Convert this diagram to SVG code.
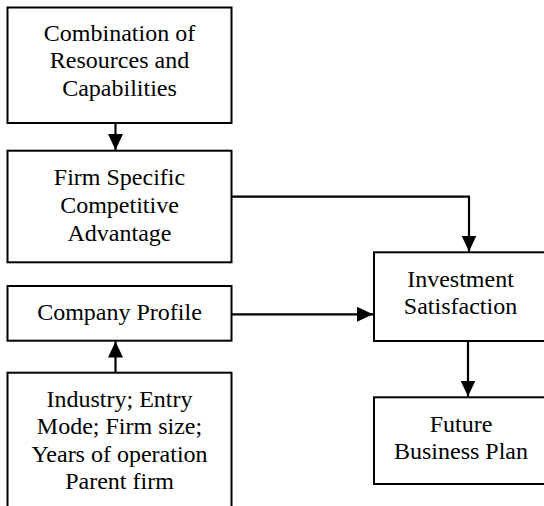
<svg xmlns="http://www.w3.org/2000/svg" width="544" height="506" viewBox="0 0 544 506">
  <style>
    .box { fill: #ffffff; stroke: #000000; stroke-width: 2; }
    .lbl { font-family: 'Liberation Serif', 'Times New Roman', serif; font-size: 24px; fill: #000000; text-anchor: middle; }
    .conn { fill: none; stroke: #000000; stroke-width: 2.2; }
  </style>
  <defs>
    <marker id="arrow" markerUnits="userSpaceOnUse" markerWidth="17" markerHeight="16" refX="16" refY="7.5" orient="auto">
      <path d="M0,0 L16,7.5 L0,15 Z" fill="#000000"/>
    </marker>
  </defs>
  <rect x="0" y="0" width="544" height="506" fill="#ffffff"/>

  <g id="resources">
    <rect class="box" x="7.5" y="7.5" width="224" height="115.5"/>
    <text class="lbl" x="119.5" y="40.7">Combination of</text>
    <text class="lbl" x="119.5" y="68.3">Resources and</text>
    <text class="lbl" x="119.5" y="96">Capabilities</text>
  </g>

  <g id="advantage">
    <rect class="box" x="7.5" y="150.7" width="224" height="111.6"/>
    <text class="lbl" x="119.5" y="185">Firm Specific</text>
    <text class="lbl" x="119.5" y="212.7">Competitive</text>
    <text class="lbl" x="119.5" y="240.5">Advantage</text>
  </g>

  <g id="profile">
    <rect class="box" x="7.5" y="286" width="224" height="54.7"/>
    <text class="lbl" x="119.5" y="320">Company Profile</text>
  </g>

  <!-- bottom edge runs past the canvas -->
  <g id="characteristics">
    <rect class="box" x="7.5" y="372.7" width="224" height="150"/>
    <text class="lbl" x="119.5" y="406.7">Industry; Entry</text>
    <text class="lbl" x="119.5" y="434">Mode; Firm size;</text>
    <text class="lbl" x="119.5" y="461.7">Years of operation</text>
    <text class="lbl" x="119.5" y="489">Parent firm</text>
  </g>

  <!-- right-hand boxes run past the right edge -->
  <g id="satisfaction">
    <rect class="box" x="374" y="252.3" width="174" height="88.7"/>
    <text class="lbl" x="460.5" y="286.7">Investment</text>
    <text class="lbl" x="460.5" y="314.3">Satisfaction</text>
  </g>

  <g id="plan">
    <rect class="box" x="374" y="397.3" width="174" height="86.7"/>
    <text class="lbl" x="461" y="431.7">Future</text>
    <text class="lbl" x="461" y="459">Business Plan</text>
  </g>

  <g id="connectors">
    <path class="conn" d="M115.5,123 L115.5,150" marker-end="url(#arrow)"/>
    <path class="conn" d="M231.5,196.7 L469,196.7 L469,251.5" marker-end="url(#arrow)"/>
    <path class="conn" d="M231.5,314.3 L373,314.3" marker-end="url(#arrow)"/>
    <path class="conn" d="M115.5,372.7 L115.5,341.5" marker-end="url(#arrow)"/>
    <path class="conn" d="M468,341 L468,396.5" marker-end="url(#arrow)"/>
  </g>
</svg>
